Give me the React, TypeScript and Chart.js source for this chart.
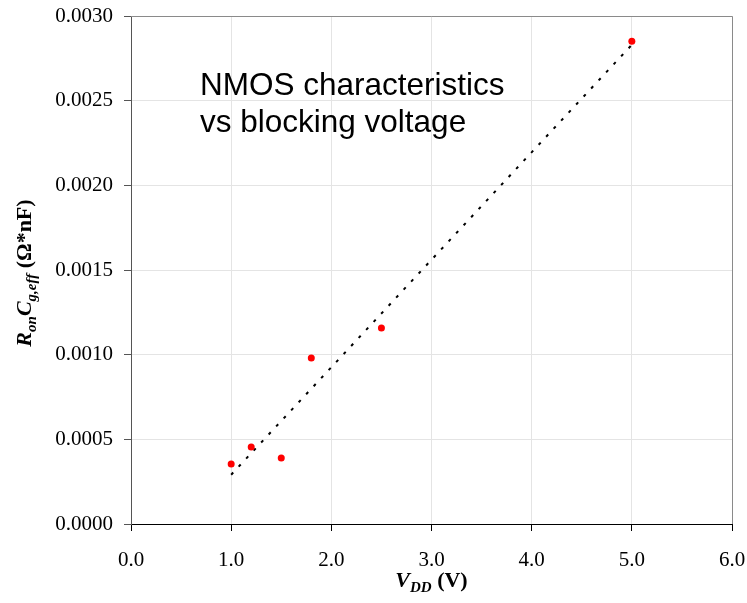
import React, { useEffect, useRef } from "react";
import { Chart, registerables } from "chart.js";
Chart.register(...registerables);

// Measured data
const vdd = [1.0, 1.2, 1.5, 1.8, 2.5, 5.0];
const ronCg = [0.000354, 0.000455, 0.00039, 0.00098, 0.001157, 0.002851];
// Linear trendline endpoints
const trendX = [1.0, 5.0];
const trendY = [0.000291, 0.00283];
// Axis ranges
const xMin = 0, xMax = 6, xStep = 1;
const yMin = 0, yMax = 0.003, yStep = 0.0005;
const annotationLines = ["NMOS characteristics", "vs blocking voltage"];

const SERIF = "'Liberation Serif', 'Times New Roman', serif";
const SANS = "'Liberation Sans', Arial, sans-serif";

type Run = { t: string; f: string; dy: number };

function drawRuns(ctx: CanvasRenderingContext2D, runs: Run[], cx: number, by: number) {
  let total = 0;
  const widths = runs.map((r) => {
    ctx.font = r.f;
    const w = ctx.measureText(r.t).width;
    total += w;
    return w;
  });
  let x = cx - total / 2;
  ctx.textAlign = "left";
  ctx.textBaseline = "alphabetic";
  runs.forEach((r, i) => {
    ctx.font = r.f;
    ctx.fillText(r.t, x, by + r.dy);
    x += widths[i];
  });
}

export default function App() {
  const ref = useRef<HTMLCanvasElement>(null);
  useEffect(() => {
    if (!ref.current) return;
    const titles = {
      id: "titles",
      afterDraw(chart: any) {
        const { ctx, chartArea: a } = chart;
        ctx.save();
        ctx.strokeStyle = "#8a8a8a";
        ctx.lineWidth = 1;
        ctx.beginPath();
        ctx.moveTo(a.left, a.top + 0.5);
        ctx.lineTo(a.right + 0.5, a.top + 0.5);
        ctx.lineTo(a.right + 0.5, a.bottom);
        ctx.stroke();

        ctx.fillStyle = "#000";
        ctx.font = "31.5px " + SANS;
        ctx.textAlign = "left";
        ctx.textBaseline = "alphabetic";
        ctx.fillText(annotationLines[0], 200, 95);
        ctx.fillText(annotationLines[1], 200, 132);

        const bi = (s: number) => `italic bold ${s}px ${SERIF}`;
        const b = (s: number) => `bold ${s}px ${SERIF}`;
        const cx = (a.left + a.right) / 2;
        drawRuns(
          ctx,
          [
            { t: "V", f: bi(22), dy: 0 },
            { t: "DD", f: bi(15), dy: 5 },
            { t: " (V)", f: b(22), dy: 0 },
          ],
          cx,
          587
        );
        ctx.translate(31, (a.top + a.bottom) / 2 + 3);
        ctx.rotate(-Math.PI / 2);
        drawRuns(
          ctx,
          [
            { t: "R", f: bi(22), dy: 0 },
            { t: "on", f: bi(15), dy: 5 },
            { t: "C", f: bi(22), dy: 0 },
            { t: "g,eff", f: bi(15), dy: 5 },
            { t: " (Ω*nF)", f: b(22), dy: 0 },
          ],
          0,
          0
        );
        ctx.restore();
      },
    };

    const chart = new Chart(ref.current, {
      type: "scatter",
      data: {
        datasets: [
          {
            label: "data",
            data: vdd.map((x, i) => ({ x, y: ronCg[i] })),
            backgroundColor: "#ff0000",
            borderColor: "#ff0000",
            pointRadius: 3.5,
            pointBorderWidth: 0,
            showLine: false,
          },
          {
            label: "trend",
            data: trendX.map((x, i) => ({ x, y: trendY[i] })),
            showLine: true,
            borderColor: "#000",
            borderWidth: 2,
            borderDash: [3, 8],
            pointRadius: 0,
            fill: false,
          },
        ],
      },
      options: {
        animation: false,
        responsive: false,
        devicePixelRatio: 1,
        layout: { padding: { top: 16, right: 15, left: 0, bottom: 0 } },
        plugins: { legend: { display: false }, tooltip: { enabled: false } },
        scales: {
          x: {
            type: "linear",
            min: xMin,
            max: xMax,
            afterFit: (s: any) => {
              s.height = 79;
              s.paddingLeft = 0;
              s.paddingRight = 0;
            },
            ticks: {
              stepSize: xStep,
              padding: 17,
              color: "#000",
              font: { family: SERIF, size: 21 },
              callback: (v: any) => Number(v).toFixed(1),
            },
            grid: { color: "#e4e4e4", tickLength: 7, tickColor: "#000", drawTicks: true },
            border: { color: "#000", width: 1 },
          },
          y: {
            type: "linear",
            min: yMin,
            max: yMax,
            afterFit: (s: any) => {
              s.width = 131;
              s.paddingTop = 0;
              s.paddingBottom = 0;
            },
            ticks: {
              stepSize: yStep,
              padding: 11,
              color: "#000",
              font: { family: SERIF, size: 21 },
              callback: (v: any) => Number(v).toFixed(4),
            },
            grid: { color: "#e4e4e4", tickLength: 7, tickColor: "#555", drawTicks: true },
            border: { color: "#555", width: 1 },
          },
        },
      },
      plugins: [titles],
    });
    return () => chart.destroy();
  }, []);
  return (
    <div style={{ position: "absolute", left: 0, top: 0, width: 747, height: 603, background: "#fff" }}>
      <canvas ref={ref} width={747} height={603} />
    </div>
  );
}
